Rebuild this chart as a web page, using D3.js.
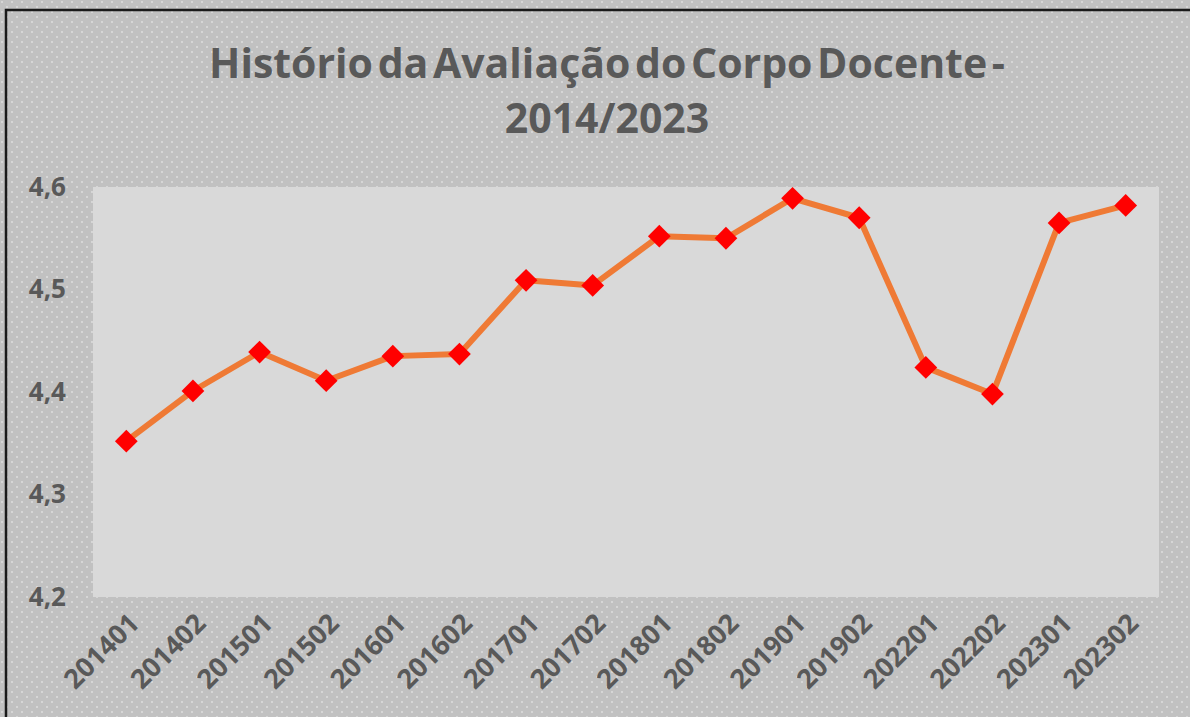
<!DOCTYPE html>
<html>
<head>
<meta charset="utf-8">
<script src="https://cdn.jsdelivr.net/npm/d3@7"></script>
<style>
  html, body { margin: 0; padding: 0; background: #c2c2c2; }
  svg { display: block; }
</style>
</head>
<body>
<div id="chart"></div>
<script>
// Dados
const periods = ['201401', '201402', '201501', '201502', '201601', '201602', '201701', '201702',
                 '201801', '201802', '201901', '201902', '202201', '202202', '202301', '202302'];
const scores = [4.352, 4.401, 4.439, 4.411, 4.435, 4.437, 4.509, 4.504,
                4.552, 4.550, 4.589, 4.570, 4.424, 4.398, 4.565, 4.582];
const yTicks = [4.2, 4.3, 4.4, 4.5, 4.6];
const titleLines = ['Histório da Avaliação do Corpo Docente -', '2014/2023'];

const W = 1190, H = 717;
const plot = { left: 93, top: 187, right: 1159, bottom: 597 };
const textColor = '#595959';

const svg = d3.select('#chart').append('svg')
  .attr('width', W).attr('height', H);

// dotted background texture
const defs = svg.append('defs');
const pat = defs.append('pattern')
  .attr('id', 'dots').attr('patternUnits', 'userSpaceOnUse')
  .attr('width', 10).attr('height', 10);
pat.append('circle').attr('cx', 2).attr('cy', 2).attr('r', 1).attr('fill', '#e8e8e8');
pat.append('circle').attr('cx', 7).attr('cy', 7).attr('r', 1).attr('fill', '#e8e8e8');

svg.append('rect').attr('width', W).attr('height', H).attr('fill', '#c1c1c1');
svg.append('rect').attr('width', W).attr('height', H).attr('fill', 'url(#dots)').attr('opacity', 0.7);

// outer frame
svg.append('rect')
  .attr('x', 6).attr('y', 10).attr('width', W + 10).attr('height', H + 10)
  .attr('fill', 'none').attr('stroke', '#1a1a1a').attr('stroke-width', 2.5);

// plot area
svg.append('rect')
  .attr('x', plot.left).attr('y', plot.top)
  .attr('width', plot.right - plot.left).attr('height', plot.bottom - plot.top)
  .attr('fill', '#d9d9d9');

// Title
const title = svg.append('text')
  .attr('text-anchor', 'middle')
  .attr('fill', textColor)
  .attr('font-family', '"Open Sans", sans-serif')
  .attr('font-weight', 700)
  .attr('font-size', '41px')
  .attr('word-spacing', '-6px');
titleLines.forEach((t, i) => {
  title.append('tspan')
    .attr('x', 607)
    .attr('y', 78 + i * 55)
    .text(t);
});

// Scales
const x = d3.scalePoint()
  .domain(periods)
  .range([plot.left, plot.right])
  .padding(0.5);

const y = d3.scaleLinear()
  .domain([4.2, 4.6])
  .range([plot.bottom, plot.top]);

const fmt = d3.formatLocale({ decimal: ',', thousands: '.', grouping: [3], currency: ['R$', ''] }).format('.1f');

// Y axis
const yAxis = svg.append('g')
  .attr('transform', `translate(${plot.left},0)`)
  .call(d3.axisLeft(y).tickValues(yTicks).tickFormat(fmt).tickSize(0).tickPadding(27));
yAxis.select('.domain').remove();
yAxis.selectAll('text')
  .attr('fill', textColor)
  .attr('font-family', '"Open Sans", sans-serif')
  .attr('font-weight', 700)
  .attr('font-size', '26px');

// X axis
const xAxis = svg.append('g')
  .attr('transform', `translate(0,${plot.bottom})`)
  .call(d3.axisBottom(x).tickSize(0).tickPadding(0));
xAxis.select('.domain').remove();
xAxis.selectAll('text')
  .attr('fill', textColor)
  .attr('font-family', '"Open Sans", sans-serif')
  .attr('font-weight', 700)
  .attr('font-size', '27px')
  .attr('text-anchor', 'end')
  .attr('dy', 0)
  .attr('transform', 'translate(14,28) rotate(-45)');

// Line
const line = d3.line()
  .x((d, i) => x(periods[i]))
  .y(d => y(d));

svg.append('path')
  .datum(scores)
  .attr('d', line)
  .attr('fill', 'none')
  .attr('stroke', '#ef7a35')
  .attr('stroke-width', 6)
  .attr('stroke-linejoin', 'round')
  .attr('stroke-linecap', 'round');

// Markers
const diamond = d3.symbol().type(d3.symbolDiamond2).size(330);
svg.selectAll('.marker')
  .data(scores)
  .join('path')
  .attr('class', 'marker')
  .attr('transform', (d, i) => `translate(${x(periods[i])},${y(d)})`)
  .attr('d', diamond)
  .attr('fill', '#ff0000');
</script>
</body>
</html>
